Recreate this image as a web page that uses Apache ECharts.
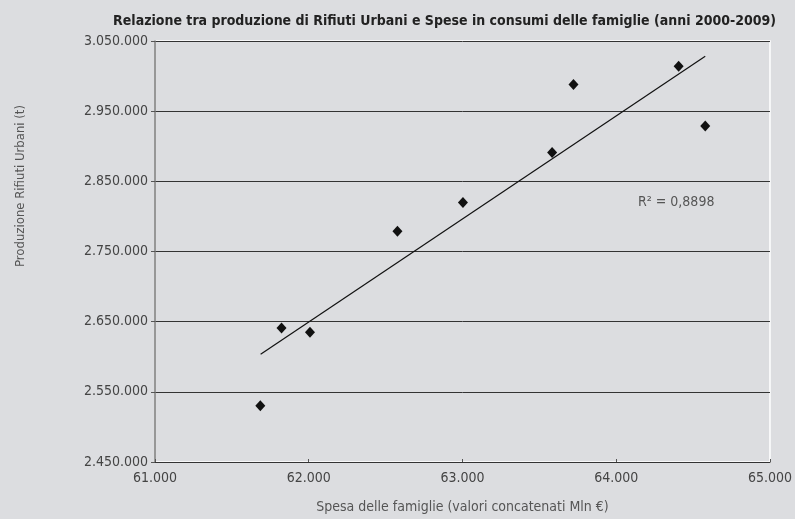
<!DOCTYPE html>
<html>
<head>
<meta charset="utf-8">
<script src="https://cdn.jsdelivr.net/npm/echarts@6/dist/echarts.min.js"></script>
<style>
  html, body { margin: 0; padding: 0; background: #dcdde0; }
  #chart { width: 795px; height: 519px; }
</style>
</head>
<body>
<div id="chart"></div>
<script>
// spesa delle famiglie (Mln €) e produzione rifiuti urbani (t)
var spesa = [61685, 61823, 62008, 62577, 63003, 63583, 63722, 64406, 64579];
var rifiuti = [2530000, 2641000, 2635000, 2779000, 2820000, 2891000, 2988000, 3014000, 2929000];
// linea di tendenza (estremi)
var trendX = [61687, 64579];
var trendY = [2603600, 3028200];
var r2Text = 'R\u00B2 = 0,8898';

function fmtIt(v) {
    return String(v).replace(/\B(?=(\d{3})+(?!\d))/g, '.');
}

var punti = spesa.map(function (x, i) { return [x, rifiuti[i]]; });
var trend = trendX.map(function (x, i) { return [x, trendY[i]]; });

var font = '"Liberation Sans Narrow", "DejaVu Sans Condensed", sans-serif';
var myChart = echarts.init(document.getElementById('chart'));

var option = {
    backgroundColor: '#dcdde0',
    animation: false,
    textStyle: { fontFamily: font },
    title: {
        text: 'Relazione tra produzione di Rifiuti Urbani e Spese in consumi delle famiglie (anni 2000-2009)',
        right: 14,
        top: 9,
        textStyle: { fontFamily: font, fontSize: 14, fontWeight: 'bold', color: '#222' }
    },
    grid: {
        left: 155,
        right: 25,
        top: 41,
        bottom: 54,
        show: true,
        backgroundColor: '#dcdde0',
        borderColor: '#ffffff',
        borderWidth: 1.5
    },
    xAxis: {
        type: 'value',
        min: 61000,
        max: 65000,
        interval: 1000,
        name: 'Spesa delle famiglie (valori concatenati Mln \u20AC)',
        nameLocation: 'middle',
        nameGap: 38,
        nameTextStyle: { fontFamily: font, fontSize: 14, color: '#555' },
        axisLine: { lineStyle: { color: '#333', width: 1.2 } },
        axisTick: { show: true, inside: true, length: 3, lineStyle: { color: '#555' } },
        axisLabel: { fontFamily: font, fontSize: 14, color: '#444', margin: 9, formatter: fmtIt },
        splitLine: { show: false }
    },
    yAxis: {
        type: 'value',
        min: 2450000,
        max: 3050000,
        interval: 100000,
        axisLine: { show: true, lineStyle: { color: '#777', width: 1.5 } },
        axisTick: { show: true, length: 4, lineStyle: { color: '#555' } },
        axisLabel: { fontFamily: font, fontSize: 14, color: '#444', margin: 7, formatter: fmtIt },
        splitLine: { show: true, lineStyle: { color: '#333', width: 1 } }
    },
    series: [
        {
            name: 'Rifiuti',
            type: 'scatter',
            symbol: 'diamond',
            symbolSize: [10, 11],
            itemStyle: { color: '#111', opacity: 1 },
            data: punti,
            z: 3
        },
        {
            name: 'Tendenza',
            type: 'line',
            symbol: 'none',
            lineStyle: { color: '#111', width: 1.2 },
            data: trend,
            z: 2
        }
    ],
    graphic: [
        {
            // nome asse y, spostato in alto come nell'originale
            type: 'text',
            x: 21,
            y: 186,
            rotation: Math.PI / 2,
            style: {
                text: 'Produzione Rifiuti Urbani (t)',
                fontFamily: font, fontSize: 13, fill: '#555',
                align: 'center', verticalAlign: 'middle'
            }
        },
        {
            type: 'text',
            left: 638,
            top: 195,
            style: { text: r2Text, fontFamily: font, fontSize: 14, fill: '#555' }
        }
    ]
};

myChart.setOption(option);
</script>
</body>
</html>
